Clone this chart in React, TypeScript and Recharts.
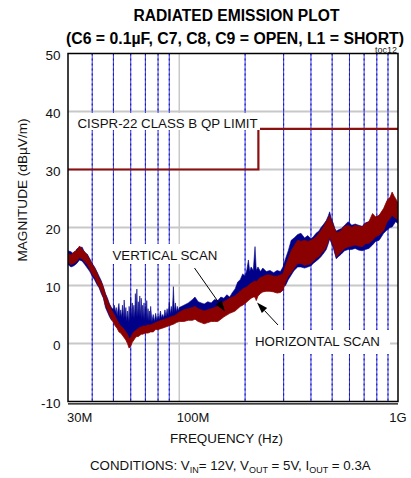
import React from "react";
import {
  ComposedChart,
  Area,
  Line,
  XAxis,
  YAxis,
  CartesianGrid,
} from "recharts";

// frequency in MHz (horizontal scan samples)
const FREQ = [
  31, 32, 33, 34, 35, 36, 37, 38, 39, 40, 41, 42, 43, 44, 45, 46, 47, 48, 49, 50,
  51, 52, 53, 54, 55, 56, 57, 58, 59, 60, 61, 62, 63, 64, 65, 66, 67, 68, 70, 72,
  74, 76, 78, 80, 83, 86, 89, 92, 95, 97, 100, 105, 110, 115, 118, 122, 126, 130, 135, 140,
  145, 150, 155, 160, 165, 170, 175, 180, 185, 190, 195, 200, 204, 207, 210, 213, 218, 222, 225, 229,
  235, 241, 250, 260, 270, 280, 290, 298, 306, 315, 325, 335, 348, 360, 374, 387, 400, 410, 422, 435,
  445, 458, 470, 480, 487, 495, 505, 515, 522, 535, 550, 570, 592, 615, 637, 660, 686, 710, 736, 765,
  790, 820, 860, 892, 920, 940, 960, 975, 1000,
];

// horizontal scan (dBuV/m), low and high edge of the trace
const RED_LO = [
  14.0, 13.6, 13.8, 14.2, 14.8, 14.6, 14.0, 13.6, 12.8, 12.0, 11.4, 10.6, 9.8, 9.0, 8.0, 6.6, 5.8, 5.0, 4.2, 3.6,
  3.0, 2.6, 2.0, 1.8, 1.4, 1.0, 0.6, 0.0, -0.8, -0.4, 0.2, 0.6, 1.0, 1.2, 1.2, 1.4, 1.6, 1.6, 1.8, 1.8,
  2.0, 2.0, 2.4, 2.4, 2.6, 2.8, 3.0, 3.2, 3.4, 3.6, 3.8, 3.8, 4.0, 4.0, 4.2, 3.8, 3.6, 3.4, 3.6, 3.8,
  3.8, 3.8, 4.2, 4.6, 4.9, 5.2, 5.4, 5.6, 6.0, 6.4, 6.6, 6.9, 7.2, 7.4, 7.6, 7.8, 8.0, 8.0, 7.4, 8.2,
  8.6, 8.9, 9.0, 9.0, 8.9, 8.7, 8.8, 9.2, 10.6, 11.6, 12.2, 13.0, 13.8, 13.8, 13.5, 13.6, 13.8, 14.2, 14.7, 15.0,
  15.5, 16.0, 16.7, 17.6, 18.4, 17.8, 17.0, 15.8, 14.9, 15.4, 15.8, 16.4, 16.7, 16.8, 17.0, 16.8, 16.7, 17.2, 17.3, 17.8,
  18.4, 18.7, 19.5, 21.0, 21.6, 22.1, 21.8, 21.6, 21.3,
];
const RED_HI = [
  15.6, 15.2, 15.8, 16.0, 16.8, 16.2, 15.8, 15.2, 14.4, 13.6, 13.0, 12.2, 11.2, 10.6, 9.6, 8.4, 7.4, 6.6, 5.8, 5.2,
  4.6, 4.0, 3.4, 3.0, 2.8, 2.4, 2.0, 1.6, 0.8, 1.0, 1.6, 2.0, 2.2, 2.4, 2.6, 2.8, 2.8, 3.0, 3.0, 3.2,
  3.2, 3.4, 3.6, 3.8, 4.0, 4.2, 4.4, 4.6, 4.8, 5.0, 5.4, 5.8, 6.0, 6.2, 6.4, 6.0, 5.8, 5.6, 5.8, 6.0,
  6.2, 6.4, 6.8, 7.2, 7.5, 7.8, 8.0, 8.2, 8.6, 9.0, 9.4, 9.6, 9.8, 10.0, 10.2, 10.4, 10.6, 10.8, 10.6, 11.0,
  11.4, 11.5, 11.8, 11.8, 11.6, 11.6, 11.8, 12.0, 13.4, 14.6, 16.0, 16.8, 17.8, 17.6, 17.8, 17.6, 17.8, 18.0, 18.4, 19.0,
  19.5, 20.2, 21.0, 21.6, 22.1, 21.2, 20.4, 19.6, 19.2, 19.2, 19.5, 20.2, 20.4, 20.0, 20.4, 20.2, 20.1, 20.7, 21.0, 22.4,
  21.8, 22.1, 23.3, 24.7, 25.2, 26.1, 25.4, 25.0, 24.2,
];

// vertical scan samples (denser where it has spikes)
const BLUE_FREQ = [
  31, 32, 33, 34, 35, 36, 37, 38, 39, 40, 41, 42, 43, 44, 45, 46, 47, 48, 49,
  50, 50.5, 51, 51.5, 52, 52.5, 53, 53.5, 54, 54.5, 55, 55.5, 56, 56.5, 57, 57.5, 58, 58.5, 59, 59.5,
  60, 60.5, 61, 61.5, 62, 62.5, 63, 63.5, 64, 64.5, 65, 65.5, 66, 66.5, 67, 67.5, 68, 68.5, 69, 69.5,
  70, 70.5, 71, 71.5, 72, 72.5, 73, 73.5, 74, 75, 76, 77, 78, 79, 80, 81, 82, 83, 84, 85,
  86, 87, 88, 89, 90, 91, 92, 93, 94, 95, 96, 97, 98, 99, 100,
  105, 110, 115, 118, 122, 126, 130, 135, 140, 145, 150, 155, 160, 165, 170, 175, 180, 185, 190, 195,
  200, 204, 207, 210, 213, 218, 222, 225, 229, 235, 241, 250, 260, 270, 280, 290, 298, 306, 315, 325,
  335, 348, 360, 374, 387, 400, 410, 422, 435, 445, 458, 470, 480, 487, 495, 505, 515, 522, 535, 550,
  570, 592, 615, 637, 660, 686, 710, 736, 765, 790, 820, 860, 892, 920, 940, 960, 975, 1000,
];
const BLUE_LO = [
  13.6, 13.2, 13.4, 13.8, 14.4, 14.2, 13.6, 13.0, 12.4, 11.6, 11.0, 10.2, 9.6, 8.6, 7.8, 6.2, 5.4, 4.6, 4.0,
  4.2, 4.0, 3.8, 3.6, 3.2, 3.0, 2.8, 2.6, 2.4, 2.2, 2.0, 2.0, 1.8, 1.6, 1.4, 1.2, 1.0, 0.8, 0.7, 0.6,
  0.6, 0.8, 1.0, 1.2, 1.4, 1.5, 1.6, 1.7, 1.8, 1.9, 2.0, 2.1, 2.2, 2.2, 2.3, 2.3, 2.4, 2.4, 2.4, 2.4,
  2.4, 2.5, 2.5, 2.5, 2.6, 2.6, 2.6, 2.6, 2.6, 2.7, 2.8, 2.9, 3.0, 3.1, 3.2, 3.3, 3.4, 3.5, 3.6, 3.7,
  3.8, 3.8, 3.9, 4.0, 4.0, 4.1, 4.2, 4.3, 4.4, 4.4, 4.5, 4.5, 4.6, 4.6, 4.6,
  4.8, 5.0, 5.0, 5.2, 5.0, 4.8, 4.6, 4.8, 5.0, 5.0, 5.2, 5.4, 5.8, 6.0, 6.2, 6.4, 6.6, 7.0, 7.4, 7.8,
  8.0, 8.2, 8.4, 8.6, 8.8, 9.0, 9.2, 9.2, 9.4, 9.6, 9.8, 10.0, 10.0, 9.8, 9.6, 9.6, 9.8, 10.0, 11.0, 11.8,
  12.6, 13.2, 13.2, 13.0, 13.2, 13.4, 13.8, 14.2, 14.6, 15.0, 15.6, 16.2, 17.2, 18.0, 17.4, 16.6, 15.4, 14.6, 15.0, 15.4,
  16.0, 16.2, 16.2, 16.4, 16.1, 16.0, 16.2, 16.4, 17.0, 17.6, 17.8, 19.0, 19.6, 20.0, 20.1, 20.6, 21.0, 20.7,
];
const BLUE_HI = [
  16.0, 15.8, 15.4, 16.3, 16.6, 16.6, 15.6, 15.4, 14.6, 13.8, 13.2, 12.4, 11.6, 10.8, 9.8, 8.6, 7.8, 6.8, 6.2,
  5.8, 6.6, 5.4, 6.2, 4.8, 6.0, 6.9, 4.6, 5.8, 4.4, 6.6, 4.2, 7.5, 4.4, 6.2, 3.8, 5.6, 3.6, 6.4, 4.0,
  8.0, 4.2, 7.0, 4.4, 6.6, 4.2, 8.6, 4.6, 9.4, 4.4, 7.2, 4.6, 8.2, 4.4, 7.8, 4.2, 6.6, 4.2, 7.0, 4.0,
  6.4, 4.0, 7.4, 4.0, 6.0, 3.8, 5.6, 3.8, 6.4, 3.8, 5.0, 3.8, 5.2, 4.0, 4.8, 4.2, 5.6, 4.4, 5.0, 4.4,
  5.8, 4.6, 6.0, 4.8, 7.2, 5.0, 6.4, 5.2, 9.8, 5.4, 7.0, 5.4, 6.4, 5.6, 6.2,
  6.6, 7.0, 7.6, 8.0, 7.2, 7.0, 6.8, 7.2, 7.0, 7.6, 7.4, 8.0, 7.8, 8.4, 8.0, 8.8, 9.4, 10.6, 11.0, 12.0,
  11.6, 12.8, 14.4, 12.4, 13.2, 12.6, 16.7, 12.6, 13.2, 12.4, 13.0, 12.4, 12.6, 12.2, 12.6, 12.4, 13.2, 14.6, 16.0, 17.8,
  18.2, 18.8, 19.0, 18.2, 18.6, 18.0, 18.4, 19.0, 19.4, 20.0, 20.6, 21.2, 22.0, 22.7, 21.6, 20.8, 19.8, 19.4, 19.6, 19.8,
  20.4, 21.0, 20.4, 20.6, 20.4, 20.2, 20.8, 21.0, 21.6, 21.8, 22.0, 23.0, 23.6, 23.4, 22.8, 22.4, 22.2, 21.8,
];

// CISPR-22 class B QP limit
const LIMIT_FREQ = [31, 230, 230, 1000];
const LIMIT_VAL = [30, 30, 37, 37];

const X_TICKS = [31, 100, 1000];
const X_LABELS: Record<number, string> = { 31: "30M", 100: "100M", 1000: "1G" };
const Y_TICKS = [-10, 0, 10, 20, 30, 40, 50];
const GRID_Y = [0, 10, 20, 30, 40];
const GRID_F_GRAY = [100];
const GRID_F = [40, 50, 60, 70, 80, 90, 200, 300, 400, 500, 600, 700, 800, 900];

const redData = FREQ.map((f, i) => ({ f, red: [RED_LO[i], RED_HI[i]] }));
const blueData = BLUE_FREQ.map((f, i) => ({ f, blue: [BLUE_LO[i], BLUE_HI[i]] }));
const limitData = LIMIT_FREQ.map((f, i) => ({ f, v: LIMIT_VAL[i] }));

const FONT = "'Liberation Sans', Arial, sans-serif";
const RED = "#8b0000";
const BLUE = "#000088";

const XTick = (props: any) => {
  const { x, payload } = props;
  const v = payload.value;
  const anchor = v === 1000 ? "middle" : "start";
  const dx = v === 31 ? -1 : v === 100 ? -2.5 : 0;
  return (
    <text x={x + dx} y={422} textAnchor={anchor} fontSize={13} fontFamily={FONT} fill="#111">
      {X_LABELS[v]}
    </text>
  );
};

const YTick = (props: any) => {
  const { y, payload } = props;
  return (
    <text x={60.5} y={y + 6.3} textAnchor="end" fontSize={13.5} fontFamily={FONT} fill="#111">
      {payload.value}
    </text>
  );
};

const Arrow = ({ x1, y1, x2, y2 }: { x1: number; y1: number; x2: number; y2: number }) => {
  const dx = x2 - x1;
  const dy = y2 - y1;
  const len = Math.sqrt(dx * dx + dy * dy);
  const ux = dx / len;
  const uy = dy / len;
  const bx = x2 - ux * 11;
  const by = y2 - uy * 11;
  const px = -uy * 3.6;
  const py = ux * 3.6;
  return (
    <g>
      <line x1={x1} y1={y1} x2={bx} y2={by} stroke="#000" strokeWidth={1} />
      <polygon
        points={`${x2},${y2} ${bx + px},${by + py} ${bx - px},${by - py}`}
        fill="#000"
      />
    </g>
  );
};

const Overlay = () => (
  <svg
    width={411}
    height={478}
    style={{ position: "absolute", left: 0, top: 0, pointerEvents: "none" }}
    fontFamily={FONT}
  >
    <text x={236.5} y={21} textAnchor="middle" fontSize={15.6} fontWeight="bold" fill="#000">
      RADIATED EMISSION PLOT
    </text>
    <text
      x={235}
      y={43.5}
      textAnchor="middle"
      fontSize={15.6}
      fontWeight="bold"
      fill="#000"
      textLength={338}
      lengthAdjust="spacingAndGlyphs"
    >
      (C6 = 0.1µF, C7, C8, C9 = OPEN, L1 = SHORT)
    </text>
    <text x={397} y={53} textAnchor="end" fontSize={9} fill="#222">
      toc12
    </text>

    {/* plot frame */}
    <rect x={68} y={53.5} width={330} height={348} fill="none" stroke="#000" strokeWidth={1.5} />
    <line x1={68} y1={403.8} x2={398} y2={403.8} stroke="#000" strokeWidth={1.2} />

    {/* labels with white boxes */}
    <rect x={75} y={113} width={185} height={17} fill="#fff" />
    <text x={77.5} y={128} fontSize={13.3} fill="#111">
      CISPR-22 CLASS B QP LIMIT
    </text>
    <rect x={108} y={244} width={116} height={20} fill="#fff" />
    <text x={112.5} y={260} fontSize={13.3} fill="#111">
      VERTICAL SCAN
    </text>
    <rect x={248} y={330} width={142} height={24} fill="#fff" />
    <text x={255} y={346} fontSize={13.3} fill="#111">
      HORIZONTAL SCAN
    </text>

    <Arrow x1={194.5} y1={268} x2={225} y2={311.5} />
    <Arrow x1={278} y1={325} x2={257} y2={302.5} />

    <text
      x={26.5}
      y={190}
      transform="rotate(-90 26.5 190)"
      textAnchor="middle"
      fontSize={13.6}
      fill="#111"
    >
      MAGNITUDE (dBµV/m)
    </text>
    <text x={226.5} y={443} textAnchor="middle" fontSize={13.4} fill="#111">
      FREQUENCY (Hz)
    </text>
    <text x={90} y={470} fontSize={13.3} fill="#111">
      CONDITIONS: V<tspan fontSize={9} dy={3}>IN</tspan>
      <tspan dy={-3}>= 12V, V</tspan>
      <tspan fontSize={9} dy={3}>OUT</tspan>
      <tspan dy={-3}> = 5V, I</tspan>
      <tspan fontSize={9} dy={3}>OUT</tspan>
      <tspan dy={-3}> = 0.3A</tspan>
    </text>
  </svg>
);

export default function App() {
  return (
    <div style={{ position: "absolute", left: 0, top: 0, width: 411, height: 478, background: "#fff" }}>
      <ComposedChart
        width={411}
        height={478}
        margin={{ top: 53.5, right: 13, bottom: 0, left: 0 }}
      >
        <XAxis
          dataKey="f"
          type="number"
          scale="log"
          domain={[31, 1000]}
          allowDataOverflow
          ticks={X_TICKS}
          interval={0}
          tick={XTick}
          height={76.5}
          axisLine={false}
          tickLine={false}
        />
        <YAxis
          type="number"
          domain={[-10, 50]}
          ticks={Y_TICKS}
          interval={0}
          tick={YTick}
          width={68}
          axisLine={false}
          tickLine={false}
        />
        <CartesianGrid
          vertical={false}
          horizontalValues={GRID_Y}
          stroke="#c8c8c8"
          strokeWidth={2}
        />
        <CartesianGrid
          horizontal={false}
          verticalValues={GRID_F_GRAY}
          stroke="#c8c8c8"
          strokeWidth={1.5}
        />
        <CartesianGrid
          horizontal={false}
          verticalValues={GRID_F}
          stroke="#3434f4"
          strokeWidth={1}
        />
        <CartesianGrid
          horizontal={false}
          verticalValues={GRID_F}
          stroke="#1010a8"
          strokeWidth={1}
          strokeDasharray="2 3"
        />
        <Area
          data={blueData}
          type="linear"
          dataKey="blue"
          stroke={BLUE}
          strokeWidth={0.6}
          fill={BLUE}
          fillOpacity={1}
          isAnimationActive={false}
          dot={false}
          activeDot={false}
        />
        <Area
          data={redData}
          type="linear"
          dataKey="red"
          stroke={RED}
          strokeWidth={0.8}
          fill={RED}
          fillOpacity={1}
          isAnimationActive={false}
          dot={false}
          activeDot={false}
        />
        <Line
          data={limitData}
          type="linear"
          dataKey="v"
          stroke="#8b1010"
          strokeWidth={2.2}
          dot={false}
          activeDot={false}
          isAnimationActive={false}
        />
      </ComposedChart>
      <Overlay />
    </div>
  );
}
